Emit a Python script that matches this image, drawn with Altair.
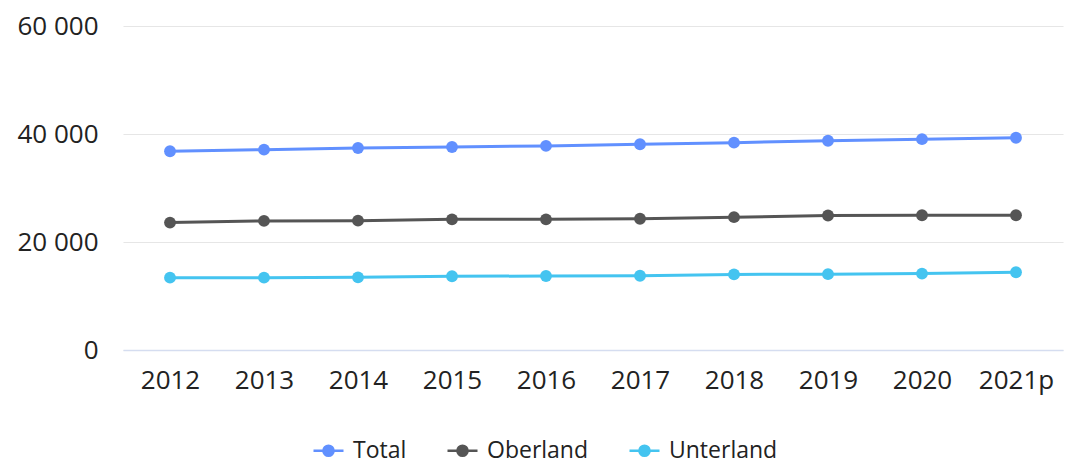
import altair as alt
import pandas as pd

years = ["2012", "2013", "2014", "2015", "2016", "2017", "2018", "2019", "2020", "2021p"]
total = [36800, 37100, 37400, 37600, 37800, 38100, 38400, 38750, 39050, 39300]
oberland = [23600, 23900, 23950, 24200, 24200, 24300, 24600, 24900, 24950, 24950]
unterland = [13400, 13400, 13450, 13650, 13700, 13750, 14000, 14050, 14150, 14400]
series = ["Total", "Oberland", "Unterland"]
colors = ["#6190FF", "#555555", "#44C4F0"]

rows = []
for name, vals in zip(series, [total, oberland, unterland]):
    for y, v in zip(years, vals):
        rows.append({"Jahr": y, "Serie": name, "Wert": v})
df = pd.DataFrame(rows)

FONT = "Open Sans"


def legend():
    return alt.Legend(
        title=None,
        orient="none",
        legendX=189,
        legendY=408,
        direction="horizontal",
        symbolType="M-1,0L1,0M-0.34,0A0.34,0.34,0,1,1,0.34,0A0.34,0.34,0,1,1,-0.34,0Z",
        symbolSize=900,
        symbolStrokeWidth=2.5,
        symbolOpacity=1,
        labelFont=FONT,
        labelFontSize=23,
        labelColor="#222222",
        labelOffset=8,
        columnPadding=35,
    )


scale = alt.Scale(domain=series, range=colors)

x = alt.X(
    "Jahr:O",
    sort=years,
    scale=alt.Scale(type="point", padding=0.5),
    axis=alt.Axis(
        title=None, labelAngle=0, ticks=False, grid=False,
        domainColor="#D5DDF0", domainWidth=1.5,
        labelFont=FONT, labelFontSize=26, labelColor="#222222", labelPadding=17,
    ),
)
y = alt.Y(
    "Wert:Q",
    scale=alt.Scale(domain=[0, 60000]),
    axis=alt.Axis(
        title=None, values=[0, 20000, 40000, 60000], ticks=False, domain=False,
        gridColor="#E6E6E6", gridWidth=1.2,
        labelFont=FONT, labelFontSize=26, labelColor="#222222", labelPadding=25,
        labelExpr="replace(format(datum.value, ','), ',', '\u00a0')",
    ),
)

base = alt.Chart(df).encode(x=x, y=y)
lines = base.mark_line(strokeWidth=3).encode(
    stroke=alt.Stroke("Serie:N", scale=scale, legend=legend())
)
points = base.mark_circle(size=140, opacity=1).encode(
    fill=alt.Fill("Serie:N", scale=scale, legend=legend())
)

chart = alt.layer(lines, points).properties(
    width=940,
    height=324,
    autosize=alt.AutoSizeParams(type="none"),
    padding={"left": 115, "top": 18, "right": 4, "bottom": 114},
).configure_view(stroke=None)

chart.save("out.html", embed_options={"renderer": "svg", "actions": False})
